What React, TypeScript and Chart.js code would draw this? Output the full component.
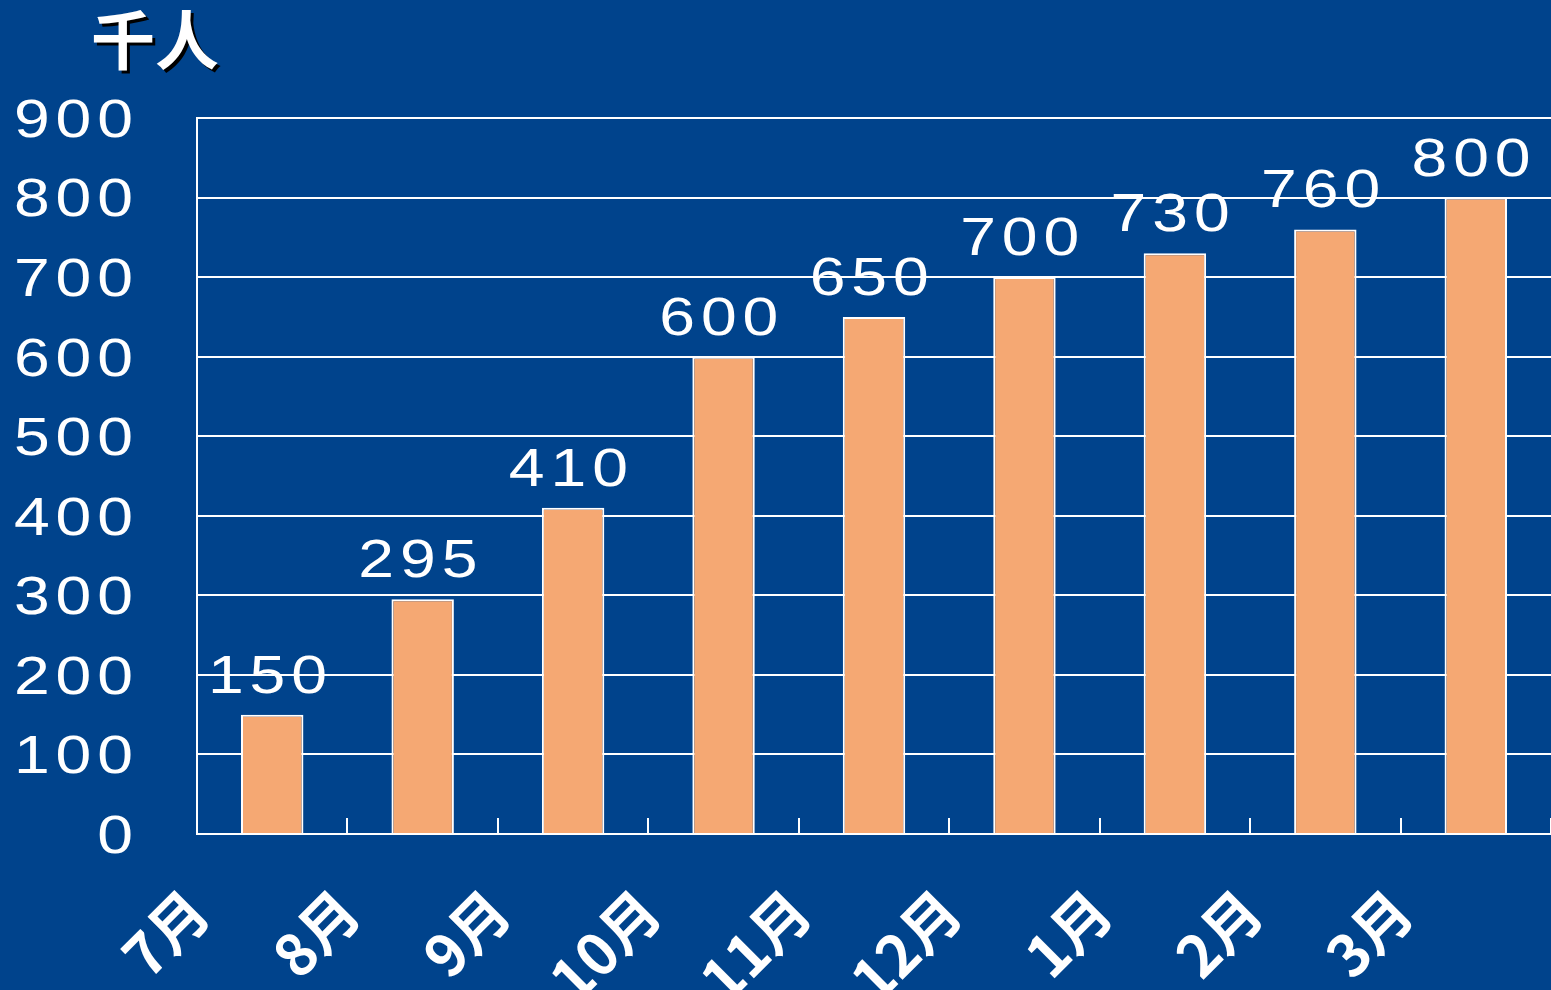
import React, { useEffect, useRef } from 'react';
import { Chart, registerables } from 'chart.js';

Chart.register(...registerables);

const categories = ['7月', '8月', '9月', '10月', '11月', '12月', '1月', '2月', '3月'];
const values = [150, 295, 410, 600, 650, 700, 730, 760, 800];
const yMin = 0;
const yMax = 900;
const yStep = 100;
const unitLabel = '千人';

const BG = '#00438C';
const BAR = '#F5A873';
const STRETCH = 1.19;
const SPACING = 5;
const NUM_FONT = '54px "Liberation Sans", Arial, sans-serif';

export default function App() {
  const ref = useRef<HTMLCanvasElement>(null);

  useEffect(() => {
    document.body.style.margin = '0';
    document.body.style.background = BG;
    const canvas = ref.current;
    if (!canvas) return;

    const customPlugin = {
      id: 'custom',
      beforeDraw(chart: any) {
        const ctx = chart.ctx;
        ctx.save();
        ctx.fillStyle = BG;
        ctx.fillRect(0, 0, chart.width, chart.height);
        ctx.restore();
        const y = chart.scales.y;
        if (y && !y._stretchWrapped) {
          const orig = y.drawLabels;
          y.drawLabels = function (area: any) {
            const c = this.ctx;
            const ax = this.right - this.options.ticks.padding;
            c.save();
            c.translate(ax, 0);
            c.scale(STRETCH, 1);
            c.translate(-ax, 0);
            c.letterSpacing = SPACING + 'px';
            orig.call(this, area);
            c.restore();
          };
          y._stretchWrapped = true;
        }
      },
      afterDatasetsDraw(chart: any) {
        const ctx = chart.ctx;
        const meta = chart.getDatasetMeta(0);
        meta.data.forEach((bar: any, i: number) => {
          ctx.save();
          ctx.translate(bar.x, bar.y - 22);
          ctx.scale(STRETCH, 1);
          ctx.letterSpacing = SPACING + 'px';
          ctx.font = NUM_FONT;
          ctx.fillStyle = '#ffffff';
          ctx.textAlign = 'center';
          ctx.textBaseline = 'alphabetic';
          ctx.fillText(String(values[i]), SPACING / 2 - 4, 0);
          ctx.restore();
        });
      },
      afterDraw(chart: any) {
        const ctx = chart.ctx;
        ctx.save();
        ctx.font = 'bold 64px "Noto Sans CJK SC", sans-serif';
        ctx.textAlign = 'center';
        ctx.textBaseline = 'middle';
        ctx.shadowColor = '#000000';
        ctx.shadowOffsetX = 3;
        ctx.shadowOffsetY = 3;
        ctx.shadowBlur = 0;
        ctx.fillStyle = '#ffffff';
        ctx.fillText(unitLabel, 155, 40);
        ctx.restore();
      },
    };

    const chart = new Chart(canvas, {
      type: 'bar',
      data: {
        labels: categories,
        datasets: [
          {
            data: values,
            backgroundColor: BAR,
            borderColor: '#ffffff',
            borderWidth: 2,
            barPercentage: 0.415,
            categoryPercentage: 1,
          },
        ],
      },
      options: {
        responsive: false,
        animation: false,
        events: [],
        layout: { padding: { top: 118, left: 0, right: 0, bottom: 0 } },
        plugins: {
          legend: { display: false },
          tooltip: { enabled: false },
          title: { display: false },
        },
        scales: {
          x: {
            offset: true,
            afterFit(scale: any) {
              scale.height = 156;
              scale.paddingRight = 0;
              scale.paddingLeft = 0;
            },
            grid: {
              display: true,
              offset: true,
              drawOnChartArea: false,
              drawTicks: true,
              tickLength: -16,
              color: '#ffffff',
              lineWidth: 2,
            },
            border: { display: true, color: '#ffffff', width: 2, z: 1 },
            ticks: {
              z: 1,
              color: '#ffffff',
              minRotation: 45,
              maxRotation: 45,
              autoSkip: false,
              labelOffset: -74,
              padding: 58,
              font: { family: '"Noto Sans CJK SC", sans-serif', size: 58, weight: 'bold' },
            },
          },
          y: {
            min: yMin,
            max: yMax,
            afterFit(scale: any) {
              scale.width = 197;
            },
            grid: {
              color: '#ffffff',
              lineWidth: 2,
              drawTicks: false,
            },
            border: { display: true, color: '#ffffff', width: 2 },
            ticks: {
              stepSize: yStep,
              color: '#ffffff',
              padding: 58,
              labelOffset: 4,
              font: { family: '"Liberation Sans", Arial, sans-serif', size: 54 },
            },
          },
        },
      },
      plugins: [customPlugin],
    });

    return () => {
      chart.destroy();
    };
  }, []);

  return (
    <canvas
      ref={ref}
      width={1551}
      height={990}
      style={{ display: 'block', width: 1551, height: 990 }}
    />
  );
}
